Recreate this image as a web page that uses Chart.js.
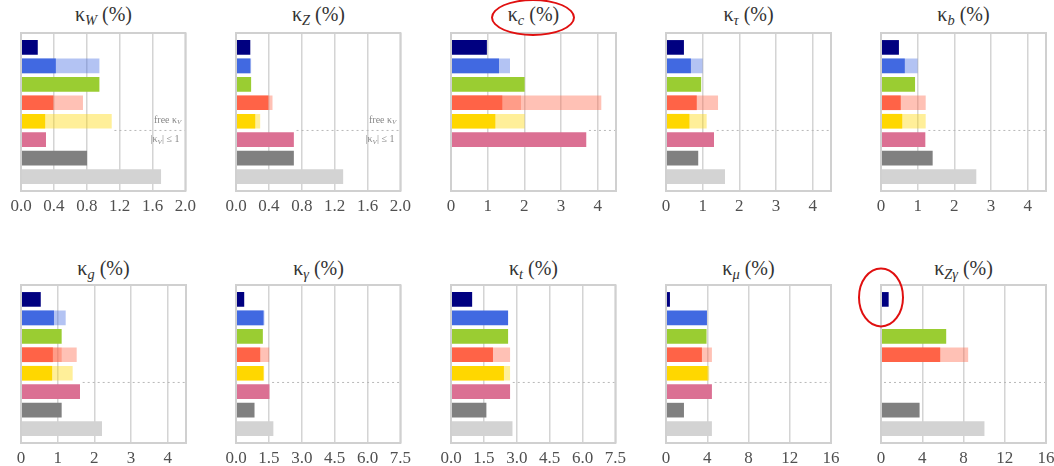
<!DOCTYPE html>
<html>
<head>
<meta charset="utf-8">
<script src="https://cdn.jsdelivr.net/npm/chart.js@4/dist/chart.umd.min.js"></script>
<style>
  body { margin: 0; background: #fff; }
  #wrap { position: relative; width: 1054px; height: 466px; overflow: hidden; }
  canvas { position: absolute; }
  .ttl { position: absolute; width: 165px; text-align: center; font: 20px "Liberation Serif", serif; line-height: 22px; color: #333; }
  .ttl sub { font-size: 0.72em; font-style: italic; vertical-align: -0.3em; }
  .ring { position: absolute; border: 2px solid #e01010; border-radius: 50%; }
</style>
</head>
<body>
<div id="wrap"></div>
<script>
// rows (top to bottom) and their colours
const rows = [0, 1, 2, 3, 4, 5, 6, 7];
const solidColors = ['#000080', '#4169e1', '#9acd32', '#ff6347', '#ffd700', '#db7093', '#808080', '#d3d3d3'];
const lightColors = ['rgba(0,0,128,0.4)', 'rgba(65,105,225,0.4)', 'rgba(154,205,50,0.4)', 'rgba(255,99,71,0.4)',
                     'rgba(255,215,0,0.4)', 'rgba(219,112,147,0.4)', 'rgba(128,128,128,0.4)', 'rgba(211,211,211,0.4)'];

// panel titles (subscript of kappa), axis range and tick step
const subs = ['W', 'Z', 'c', 'τ', 'b', 'g', 'γ', 't', 'μ', 'Zγ'];
const axisMax = [2.0, 2.0, 4.5, 4.5, 4.5, 4.5, 7.5, 7.5, 16, 16];
const axisStep = [0.4, 0.4, 1, 1, 1, 1, 1.5, 1.5, 4, 4];
const tickDecimals = [1, 1, 0, 0, 0, 0, 1, 1, 0, 0];

// values (%) per row; light = wider (lighter) bar, mid = intermediate overlap
const solidW = [0.2, 0.42, 0.95, 0.39, 0.29, 0.3, 0.8, 1.7];
const lightW = [null, 0.95, null, 0.75, 1.1, null, null, null];
const solidZ = [0.17, 0.17, 0.18, 0.39, 0.23, 0.7, 0.7, 1.3];
const lightZ = [null, 0.18, null, 0.44, 0.29, null, null, null];
const solidC = [0.97, 1.3, 2.0, 1.39, 1.2, 3.68, null, null];
const midC = [null, null, null, 1.9, null, null, null, null];
const lightC = [null, 1.6, null, 4.09, 2.0, null, null, null];
const solidTau = [0.48, 0.67, 0.95, 0.83, 0.63, 1.3, 0.87, 1.6];
const lightTau = [null, 0.99, null, 1.41, 1.1, null, null, null];
const solidB = [0.48, 0.64, 0.92, 0.53, 0.57, 1.2, 1.4, 2.59];
const lightB = [null, 0.99, null, 1.21, 1.21, null, null, null];
const solidG = [0.53, 0.89, 1.1, 0.86, 0.84, 1.6, 1.1, 2.2];
const midG = [null, null, null, 1.1, null, null, null, null];
const lightG = [null, 1.21, null, 1.51, 1.4, null, null, null];
const solidGam = [0.36, 1.24, 1.21, 1.09, 1.24, 1.51, 0.83, 1.69];
const lightGam = [null, 1.28, null, 1.5, 1.27, null, null, null];
const solidT = [0.95, 2.59, 2.59, 1.9, 2.4, 2.68, 1.6, 2.79];
const lightT = [null, null, null, 2.68, 2.68, null, null, null];
const solidMu = [0.35, 3.94, 3.9, 3.45, 4.0, 4.42, 1.71, 4.42];
const lightMu = [null, null, null, 4.42, 4.16, null, null, null];
const solidZg = [0.71, null, 6.29, 5.71, null, null, 3.71, 10.0];
const lightZg = [null, null, null, 8.42, null, null, null, null];

const solids = [solidW, solidZ, solidC, solidTau, solidB, solidG, solidGam, solidT, solidMu, solidZg];
const mids = [[], [], midC, [], [], midG, [], [], [], []];
const lights = [lightW, lightZ, lightC, lightTau, lightB, lightG, lightGam, lightT, lightMu, lightZg];

const wrap = document.getElementById('wrap');

// one dataset from a value list: skip empty rows, colour each bar by its row
function makeSet(vals, colors) {
  const pts = vals.flatMap((v, r) => v == null ? [] : [{ x: v, y: rows[r] }]);
  return {
    data: pts,
    backgroundColor: pts.map(p => colors[p.y]),
    grouped: false,
    barThickness: 14
  };
}

// write text pieces [text, font, dy] right-aligned at x
function piecesRight(ctx, parts, x, y) {
  let w = 0;
  parts.forEach(p => { ctx.font = p[1]; w += ctx.measureText(p[0]).width; });
  let cx = x - w;
  ctx.textAlign = 'left';
  parts.forEach(p => {
    ctx.font = p[1];
    ctx.fillText(p[0], cx, y + (p[2] || 0));
    cx += ctx.measureText(p[0]).width;
  });
}

// box round the plot, dotted separator, free/|kV| labels, red ring
const frame = {
  id: 'frame',
  beforeDatasetsDraw(chart, args, opts) {
    const { ctx, chartArea: a, scales: { x, y } } = chart;
    const yy = y.getPixelForValue(4.5);
    ctx.save();
    ctx.strokeStyle = '#b8b8b8';
    ctx.lineWidth = 1;
    ctx.setLineDash([2, 3]);
    ctx.beginPath();
    ctx.moveTo(x.getPixelForValue(opts.sepFrom) + 3, yy);
    ctx.lineTo(a.right, yy);
    ctx.stroke();
    ctx.restore();
  },
  afterDraw(chart, args, opts) {
    const { ctx, chartArea: a, scales: { x, y } } = chart;
    ctx.save();
    ctx.strokeStyle = '#d0d0d0';
    ctx.lineWidth = 2;
    ctx.strokeRect(a.left, a.top, a.right - a.left, a.bottom - a.top);
    if (opts.labels) {
      const f = '10px "Liberation Serif", serif';
      const fi = 'italic 7px "Liberation Serif", serif';
      ctx.fillStyle = '#888';
      ctx.textBaseline = 'middle';
      piecesRight(ctx, [['free κ', f], ['V', fi, 2]], a.right - 4, y.getPixelForValue(4) - 1);
      piecesRight(ctx, [['|κ', f], ['V', fi, 2], ['| ≤ 1', f]], a.right - 6, y.getPixelForValue(5));
    }
    if (opts.ring) {
      ctx.strokeStyle = '#e01010';
      ctx.lineWidth = 2;
      ctx.beginPath();
      ctx.ellipse(x.getPixelForValue(0), y.getPixelForValue(0) - 2, 22, 29, 0, 0, Math.PI * 2);
      ctx.stroke();
    }
    ctx.restore();
  }
};

const padL = 25, padT = 20;

function drawPanel(i) {
  const col = i % 5;
  const top = i < 5;
  const plotLeft = 21 + 215 * col;
  const plotTop = top ? 33 : 285;

  const t = document.createElement('div');
  t.className = 'ttl';
  t.style.left = plotLeft + 'px';
  t.style.top = (top ? 3 : 257) + 'px';
  t.innerHTML = 'κ<sub>' + subs[i] + '</sub> (%)';
  wrap.appendChild(t);

  const cv = document.createElement('canvas');
  cv.width = padL + 165 + 15;
  cv.height = padT + 158 + 30;
  cv.style.left = (plotLeft - padL) + 'px';
  cv.style.top = (plotTop - padT) + 'px';
  wrap.appendChild(cv);

  const sepFrom = Math.max(solids[i][4] || 0, lights[i][4] || 0, solids[i][5] || 0);

  new Chart(cv.getContext('2d'), {
    type: 'bar',
    data: {
      datasets: [
        makeSet(solids[i], solidColors),
        makeSet(mids[i], lightColors),
        makeSet(lights[i], lightColors)
      ]
    },
    options: {
      indexAxis: 'y',
      responsive: false,
      animation: false,
      devicePixelRatio: 1,
      layout: { padding: { left: padL, right: 15, top: padT, bottom: 0 } },
      plugins: {
        legend: { display: false },
        tooltip: { enabled: false },
        frame: { sepFrom, labels: i < 2, ring: i === 9 }
      },
      scales: {
        x: {
          type: 'linear', min: 0, max: axisMax[i],
          grid: { color: '#d4d4d4', lineWidth: 1.5, drawTicks: false },
          border: { display: false },
          ticks: {
            stepSize: axisStep[i], includeBounds: false, padding: 5,
            color: '#505050', font: { family: '"Liberation Serif", serif', size: 17 },
            callback: v => Number(v).toFixed(tickDecimals[i])
          },
          afterFit: s => { s.height = 30; }
        },
        y: { type: 'linear', reverse: true, offset: false, min: -0.78, max: 7.78, display: false }
      }
    },
    plugins: [frame]
  });
}

for (let i = 0; i < 10; i++) drawPanel(i);

// ring round the kappa_c title
const ring = document.createElement('div');
ring.className = 'ring';
ring.style.left = '491px';
ring.style.top = '-1px';
ring.style.width = '80px';
ring.style.height = '33px';
wrap.appendChild(ring);
</script>
</body>
</html>
